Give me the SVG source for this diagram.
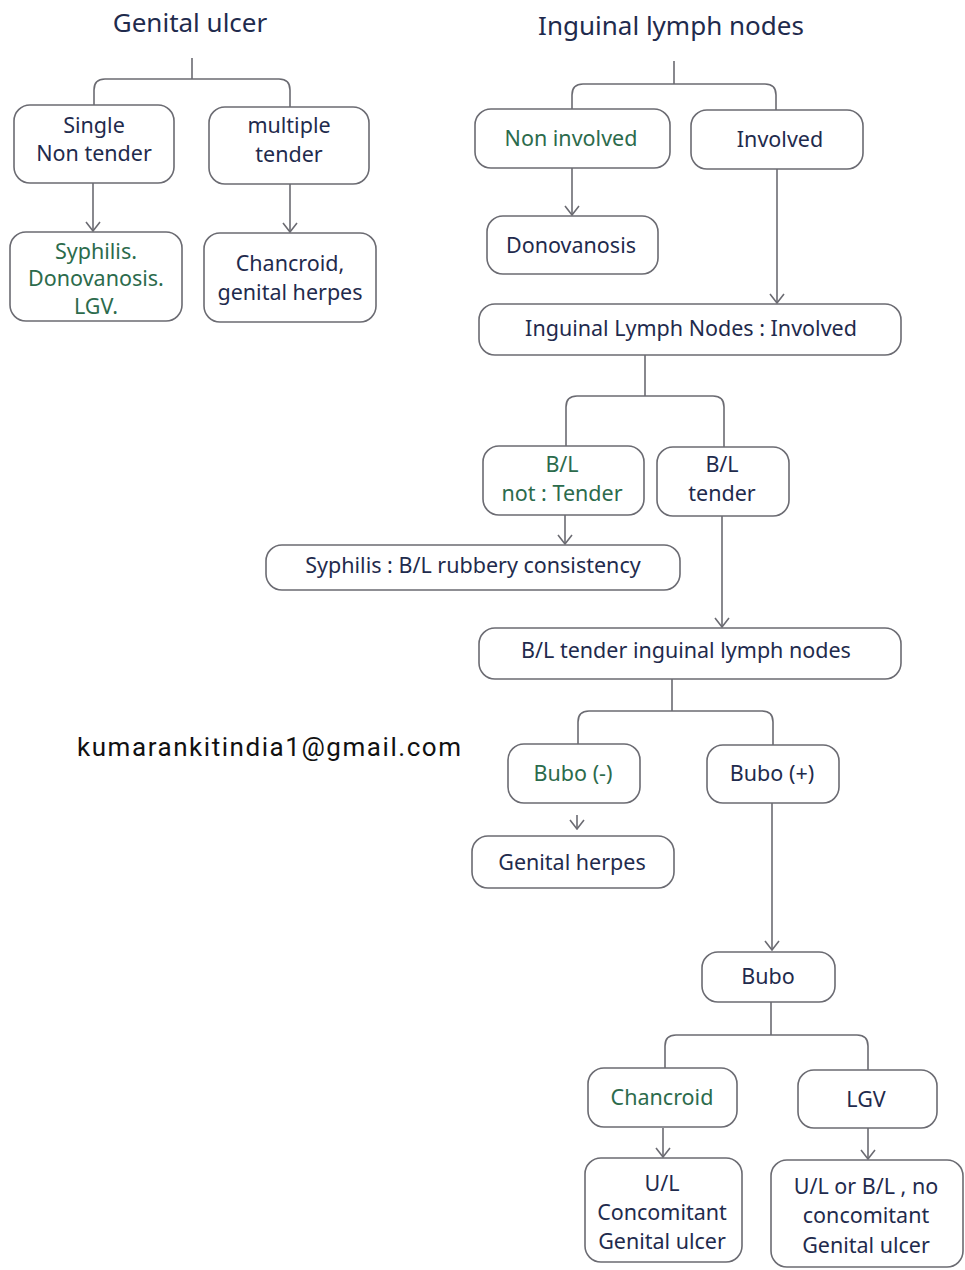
<svg xmlns="http://www.w3.org/2000/svg" width="965" height="1270" viewBox="0 0 965 1270">
  <style>
    .box { fill: #ffffff; stroke: #6b6b72; stroke-width: 1.6; }
    .wire { fill: none; stroke: #6b6b72; stroke-width: 1.6; }
    .arrow { fill: none; stroke: #6b6b72; stroke-width: 1.6; marker-end: url(#vhead); }
    text { font-family: "Noto Sans", "DejaVu Sans", sans-serif; font-size: 21.5px; text-anchor: middle; }
    .navy { fill: #1f2b4d; }
    .green { fill: #2c6b4c; }
    .title { font-size: 26px; }
    .mail { font-family: Roboto, "Liberation Sans", sans-serif; font-size: 26px; fill: #111111; text-anchor: start; }
  </style>
  <defs>
    <marker id="vhead" viewBox="-1 -8 11 16" markerWidth="11" markerHeight="16" refX="9" refY="0" orient="auto" markerUnits="userSpaceOnUse">
      <path d="M0,-7 L9,0 L0,7" fill="none" stroke="#6b6b72" stroke-width="1.6"/>
    </marker>
  </defs>
  <rect width="965" height="1270" fill="#ffffff"/>

  <!-- connectors -->
  <g id="connectors">
    <!-- genital ulcer branch -->
    <path class="wire" d="M192,58 V79 M94,105 V90 Q94,79 105,79 H279 Q290,79 290,90 V107"/>
    <path class="arrow" d="M93,183 V231"/>
    <path class="arrow" d="M290,184 V232"/>
    <!-- inguinal lymph nodes branch -->
    <path class="wire" d="M674,61 V84 M572,109 V95 Q572,84 583,84 H765 Q776,84 776,95 V110"/>
    <path class="arrow" d="M572,168 V215"/>
    <path class="arrow" d="M777,169 V303"/>
    <path class="wire" d="M645,355 V396 M566,446 V407 Q566,396 577,396 H713 Q724,396 724,407 V447"/>
    <path class="arrow" d="M565,515 V544"/>
    <path class="arrow" d="M722,516 V627"/>
    <path class="wire" d="M672,679 V711 M578,744 V722 Q578,711 589,711 H762 Q773,711 773,722 V745"/>
    <path class="arrow" d="M577,815 V829"/>
    <path class="arrow" d="M772,803 V950"/>
    <path class="wire" d="M771,1002 V1035 M665,1068 V1046 Q665,1035 676,1035 H857 Q868,1035 868,1046 V1070"/>
    <path class="arrow" d="M663,1128 V1157"/>
    <path class="arrow" d="M868,1128 V1159"/>
  </g>

  <!-- titles -->
  <g id="title-genital-ulcer">
    <text class="navy title" x="190" y="32">Genital ulcer</text>
  </g>
  <g id="title-inguinal">
    <text class="navy title" x="671" y="35">Inguinal lymph nodes</text>
  </g>

  <!-- genital ulcer tree -->
  <g id="single-non-tender">
    <rect class="box" x="14" y="105" width="160" height="78" rx="16"/>
    <text class="navy" x="94" y="133">Single</text>
    <text class="navy" x="94" y="161">Non tender</text>
  </g>
  <g id="multiple-tender">
    <rect class="box" x="209" y="107" width="160" height="77" rx="16"/>
    <text class="navy" x="289" y="133">multiple</text>
    <text class="navy" x="289" y="162">tender</text>
  </g>
  <g id="syphilis-donovanosis-lgv">
    <rect class="box" x="10" y="232" width="172" height="89" rx="16"/>
    <text class="green" x="96" y="259">Syphilis.</text>
    <text class="green" x="96" y="286">Donovanosis.</text>
    <text class="green" x="96" y="314">LGV.</text>
  </g>
  <g id="chancroid-herpes">
    <rect class="box" x="204" y="233" width="172" height="89" rx="16"/>
    <text class="navy" x="290" y="271">Chancroid,</text>
    <text class="navy" x="290" y="300">genital herpes</text>
  </g>

  <!-- inguinal lymph node tree -->
  <g id="non-involved">
    <rect class="box" x="475" y="109" width="195" height="59" rx="16"/>
    <text class="green" x="571" y="146">Non involved</text>
  </g>
  <g id="involved">
    <rect class="box" x="691" y="110" width="172" height="59" rx="16"/>
    <text class="navy" x="780" y="147">Involved</text>
  </g>
  <g id="donovanosis">
    <rect class="box" x="487" y="216" width="171" height="58" rx="16"/>
    <text class="navy" x="571" y="253">Donovanosis</text>
  </g>
  <g id="nodes-involved">
    <rect class="box" x="479" y="304" width="422" height="51" rx="16"/>
    <text class="navy" x="691" y="336">Inguinal Lymph Nodes : Involved</text>
  </g>
  <g id="bl-not-tender">
    <rect class="box" x="483" y="446" width="161" height="69" rx="16"/>
    <text class="green" x="562" y="472">B/L</text>
    <text class="green" x="562" y="501">not : Tender</text>
  </g>
  <g id="bl-tender">
    <rect class="box" x="657" y="447" width="132" height="69" rx="16"/>
    <text class="navy" x="722" y="472">B/L</text>
    <text class="navy" x="722" y="501">tender</text>
  </g>
  <g id="syphilis-rubbery">
    <rect class="box" x="266" y="545" width="414" height="45" rx="16"/>
    <text class="navy" x="473" y="573">Syphilis : B/L rubbery consistency</text>
  </g>
  <g id="bl-tender-nodes">
    <rect class="box" x="479" y="628" width="422" height="51" rx="16"/>
    <text class="navy" x="686" y="658">B/L tender inguinal lymph nodes</text>
  </g>
  <g id="bubo-negative">
    <rect class="box" x="508" y="744" width="132" height="59" rx="16"/>
    <text class="green" x="573" y="781">Bubo (-)</text>
  </g>
  <g id="bubo-positive">
    <rect class="box" x="707" y="745" width="132" height="58" rx="16"/>
    <text class="navy" x="772" y="781">Bubo (+)</text>
  </g>
  <g id="genital-herpes">
    <rect class="box" x="472" y="836" width="202" height="52" rx="16"/>
    <text class="navy" x="572" y="870">Genital herpes</text>
  </g>
  <g id="bubo">
    <rect class="box" x="702" y="952" width="133" height="50" rx="16"/>
    <text class="navy" x="768" y="984">Bubo</text>
  </g>
  <g id="chancroid">
    <rect class="box" x="588" y="1068" width="149" height="59" rx="16"/>
    <text class="green" x="662" y="1105">Chancroid</text>
  </g>
  <g id="lgv">
    <rect class="box" x="798" y="1070" width="139" height="58" rx="16"/>
    <text class="navy" x="866" y="1107">LGV</text>
  </g>
  <g id="ul-concomitant">
    <rect class="box" x="585" y="1158" width="157" height="104" rx="16"/>
    <text class="navy" x="662" y="1191">U/L</text>
    <text class="navy" x="662" y="1220">Concomitant</text>
    <text class="navy" x="662" y="1249">Genital ulcer</text>
  </g>
  <g id="ul-bl-no-concomitant">
    <rect class="box" x="771" y="1160" width="192" height="107" rx="16"/>
    <text class="navy" x="866" y="1194">U/L or B/L , no</text>
    <text class="navy" x="866" y="1223">concomitant</text>
    <text class="navy" x="866" y="1253">Genital ulcer</text>
  </g>

  <text class="mail" x="77" y="756" textLength="384" lengthAdjust="spacing">kumarankitindia1@gmail.com</text>
</svg>
